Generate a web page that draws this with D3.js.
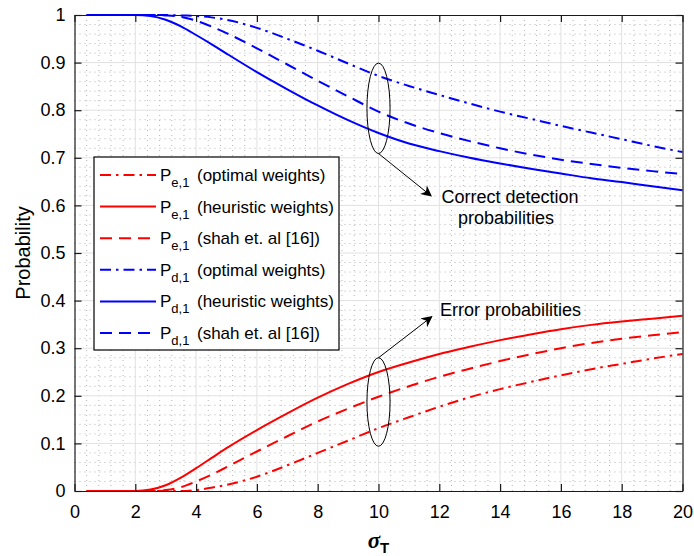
<!DOCTYPE html>
<html lang="en">
<head>
<meta charset="utf-8">
<title>Probabilities vs sigma_T</title>
<script src="https://d3js.org/d3.v7.min.js"></script>
<style>
body {
  margin: 0;
  background: #fff;
  font-family: "Liberation Sans", Arial, sans-serif;
}
.tick text {
  font-size: 18px;
  fill: #000;
  font-family: "Liberation Sans", Arial, sans-serif;
}
.axis path, .axis line {
  stroke: #1a1a1a;
  stroke-width: 1.2;
}
.grid-major {
  stroke: #e1e1e1;
  stroke-width: 1;
}
.grid-minor {
  stroke: #acacac;
  stroke-width: 0.9;
  stroke-dasharray: 1,4;
}
.curve {
  fill: none;
  stroke-width: 2;
}
</style>
</head>
<body>
<div id="chart"></div>
<script>
"use strict"

// sigma_T sample points
var sigma = [0.4, 1, 1.5, 2, 2.5, 3, 3.5, 4, 4.5, 5, 6, 7, 8, 9, 10, 11, 12, 13, 14, 15, 16, 17, 18, 19, 20];

// error probabilities
var peOptimal   = [0, 0, 0, 0, 0, 0, 0, 0.002, 0.007, 0.013, 0.030, 0.054, 0.080, 0.106, 0.132, 0.155, 0.177, 0.197, 0.214, 0.229, 0.243, 0.256, 0.267, 0.278, 0.288];
var peHeuristic = [0, 0, 0, 0, 0.003, 0.012, 0.028, 0.048, 0.069, 0.090, 0.128, 0.163, 0.196, 0.225, 0.250, 0.270, 0.288, 0.303, 0.317, 0.329, 0.340, 0.349, 0.356, 0.362, 0.368];
var peShah      = [0, 0, 0, 0, 0, 0.002, 0.008, 0.020, 0.034, 0.050, 0.083, 0.115, 0.146, 0.173, 0.198, 0.220, 0.240, 0.257, 0.273, 0.287, 0.300, 0.311, 0.320, 0.327, 0.334];

// correct detection probabilities
var pdOptimal   = [1, 1, 1, 1, 1, 1, 0.999, 0.998, 0.995, 0.990, 0.973, 0.950, 0.925, 0.898, 0.872, 0.851, 0.832, 0.814, 0.797, 0.782, 0.767, 0.753, 0.739, 0.725, 0.712];
var pdHeuristic = [1, 1, 1, 1, 0.998, 0.990, 0.976, 0.958, 0.939, 0.919, 0.880, 0.844, 0.810, 0.779, 0.752, 0.730, 0.714, 0.700, 0.688, 0.677, 0.667, 0.657, 0.649, 0.640, 0.632];
var pdShah      = [1, 1, 1, 1, 1, 0.999, 0.996, 0.988, 0.976, 0.962, 0.930, 0.896, 0.862, 0.829, 0.797, 0.772, 0.752, 0.735, 0.720, 0.707, 0.696, 0.687, 0.679, 0.672, 0.666];

var xTicks = [0, 2, 4, 6, 8, 10, 12, 14, 16, 18, 20];
var yTicks = [0, 0.1, 0.2, 0.3, 0.4, 0.5, 0.6, 0.7, 0.8, 0.9, 1];

var legendNames = ["(optimal weights)", "(heuristic weights)", "(shah et. al [16])",
                   "(optimal weights)", "(heuristic weights)", "(shah et. al [16])"];

var RED = "#ff0000", BLUE = "#0000ff";
var DASH = "12,7", DASHDOT = "11,5,2.5,5";

var series = [
  {vals: peOptimal,   color: RED,  dash: DASHDOT, sub: "e,1"},
  {vals: peHeuristic, color: RED,  dash: null,    sub: "e,1"},
  {vals: peShah,      color: RED,  dash: DASH,    sub: "e,1"},
  {vals: pdOptimal,   color: BLUE, dash: DASHDOT, sub: "d,1"},
  {vals: pdHeuristic, color: BLUE, dash: null,    sub: "d,1"},
  {vals: pdShah,      color: BLUE, dash: DASH,    sub: "d,1"}
];

function drawChart() {
  var svgW = 694, svgH = 556;
  var margin = {top: 15, right: 11.5, bottom: 65, left: 74.5},
      w = svgW - margin.left - margin.right,
      h = svgH - margin.top - margin.bottom;

  var svg = d3.select('#chart')
    .append('svg')
      .attr('width', svgW)
      .attr('height', svgH);

  var g = svg.append('g')
      .attr('transform', 'translate(' + margin.left + ',' + margin.top + ')');

  var x = d3.scaleLinear().domain([0, 20]).range([0, w]);
  var y = d3.scaleLinear().domain([0, 1]).range([h, 0]);

  // minor grid (dotted)
  var minorX = d3.range(50).filter(function(i) { return i % 5; }).map(function(i) { return i * 0.4; });
  var minorY = d3.range(50).filter(function(i) { return i % 5; }).map(function(i) { return i * 0.02; });

  g.selectAll('.gmx').data(minorX).enter().append('line')
    .attr('class', 'grid-minor')
    .attr('x1', function(d) { return x(d); }).attr('x2', function(d) { return x(d); })
    .attr('y1', 0).attr('y2', h);
  g.selectAll('.gmy').data(minorY).enter().append('line')
    .attr('class', 'grid-minor')
    .attr('y1', function(d) { return y(d); }).attr('y2', function(d) { return y(d); })
    .attr('x1', 0).attr('x2', w);

  // major grid
  g.selectAll('.gx').data(xTicks.slice(1, -1)).enter().append('line')
    .attr('class', 'grid-major')
    .attr('x1', function(d) { return x(d); }).attr('x2', function(d) { return x(d); })
    .attr('y1', 0).attr('y2', h);
  g.selectAll('.gy').data(yTicks.slice(1, -1)).enter().append('line')
    .attr('class', 'grid-major')
    .attr('y1', function(d) { return y(d); }).attr('y2', function(d) { return y(d); })
    .attr('x1', 0).attr('x2', w);

  // curves
  var line = d3.line()
    .x(function(d) { return x(d[0]); })
    .y(function(d) { return y(d[1]); })
    .curve(d3.curveMonotoneX);

  series.forEach(function(s) {
    g.append('path')
      .datum(sigma.map(function(v, i) { return [v, s.vals[i]]; }))
      .attr('class', 'curve')
      .attr('stroke', s.color)
      .attr('stroke-dasharray', s.dash)
      .attr('d', line);
  });

  // axes, MATLAB style box with inward ticks
  var fmt = d3.format('~g');
  g.append('g').attr('class', 'axis')
    .attr('transform', 'translate(0,' + h + ')')
    .call(d3.axisBottom(x).tickValues(xTicks).tickSizeInner(-7).tickSizeOuter(0).tickPadding(14).tickFormat(fmt));
  g.append('g').attr('class', 'axis')
    .call(d3.axisLeft(y).tickValues(yTicks).tickSizeInner(-7).tickSizeOuter(0).tickPadding(9).tickFormat(fmt));
  g.append('g').attr('class', 'axis')
    .call(d3.axisTop(x).tickValues(xTicks).tickSizeInner(-7).tickSizeOuter(0).tickFormat(''));
  g.append('g').attr('class', 'axis')
    .attr('transform', 'translate(' + w + ',0)')
    .call(d3.axisRight(y).tickValues(yTicks).tickSizeInner(-7).tickSizeOuter(0).tickFormat(''));
  g.selectAll('.axis .domain').attr('stroke', '#1a1a1a');

  // axis labels
  svg.append('text')
    .attr('transform', 'translate(30,' + (margin.top + h / 2) + ') rotate(-90)')
    .attr('text-anchor', 'middle')
    .style('font-size', '20px')
    .text('Probability');

  var xl = svg.append('text')
    .attr('x', margin.left + w / 2)
    .attr('y', 548)
    .attr('text-anchor', 'middle');
  xl.append('tspan')
    .style('font-family', '"Liberation Serif", "Times New Roman", serif')
    .style('font-style', 'italic').style('font-weight', 'bold')
    .style('font-size', '23px')
    .text('σ');
  xl.append('tspan')
    .attr('dy', 5)
    .style('font-weight', 'bold').style('font-size', '15px')
    .text('T');

  // annotations
  var ann = g.append('g').attr('fill', 'none').attr('stroke', '#000').attr('stroke-width', 1);
  svg.append('defs').append('marker')
      .attr('id', 'arrow').attr('viewBox', '0 0 10 10')
      .attr('refX', 9).attr('refY', 5)
      .attr('markerWidth', 11).attr('markerHeight', 11)
      .attr('markerUnits', 'userSpaceOnUse')
      .attr('orient', 'auto')
    .append('path').attr('d', 'M0,0 L10,5 L0,10 L3,5 Z').attr('fill', '#000');

  var rx = x(10.38) - x(10);
  ann.append('ellipse')
    .attr('cx', x(10)).attr('cy', y(0.804))
    .attr('rx', rx).attr('ry', y(0.709) - y(0.804));
  ann.append('line')
    .attr('x1', x(10)).attr('y1', y(0.709))
    .attr('x2', x(11.73)).attr('y2', y(0.62))
    .attr('marker-end', 'url(#arrow)');

  ann.append('ellipse')
    .attr('cx', x(10)).attr('cy', y(0.187))
    .attr('rx', rx).attr('ry', y(0.094) - y(0.187));
  ann.append('line')
    .attr('x1', x(10)).attr('y1', y(0.28))
    .attr('x2', x(11.75)).attr('y2', y(0.366))
    .attr('marker-end', 'url(#arrow)');

  svg.append('text')
    .attr('x', 510).attr('y', 203)
    .attr('text-anchor', 'middle')
    .style('font-size', '18px')
    .text('Correct detection');
  svg.append('text')
    .attr('x', 506).attr('y', 224)
    .attr('text-anchor', 'middle')
    .style('font-size', '18px')
    .text('probabilities');
  svg.append('text')
    .attr('x', 440).attr('y', 316)
    .style('font-size', '18px')
    .text('Error probabilities');

  // legend
  var leg = svg.append('g').attr('transform', 'translate(94,157)');
  leg.append('rect')
    .attr('width', 245).attr('height', 193)
    .attr('fill', '#fff').attr('stroke', '#000').attr('stroke-width', 1.2);

  series.forEach(function(s, i) {
    var cy = 18 + i * 31.6;
    leg.append('line')
      .attr('x1', 6).attr('x2', 62)
      .attr('y1', cy).attr('y2', cy)
      .attr('stroke', s.color).attr('stroke-width', 2)
      .attr('stroke-dasharray', s.dash);
    var t = leg.append('text')
      .attr('x', 66).attr('y', cy + 6)
      .style('font-size', '17px');
    t.append('tspan').text('P');
    t.append('tspan').attr('dy', 6).style('font-size', '13px').text(s.sub);
    leg.append('text')
      .attr('x', 103).attr('y', cy + 6)
      .style('font-size', '17px')
      .text(legendNames[i]);
  });
}

drawChart();
</script>
</body>
</html>
